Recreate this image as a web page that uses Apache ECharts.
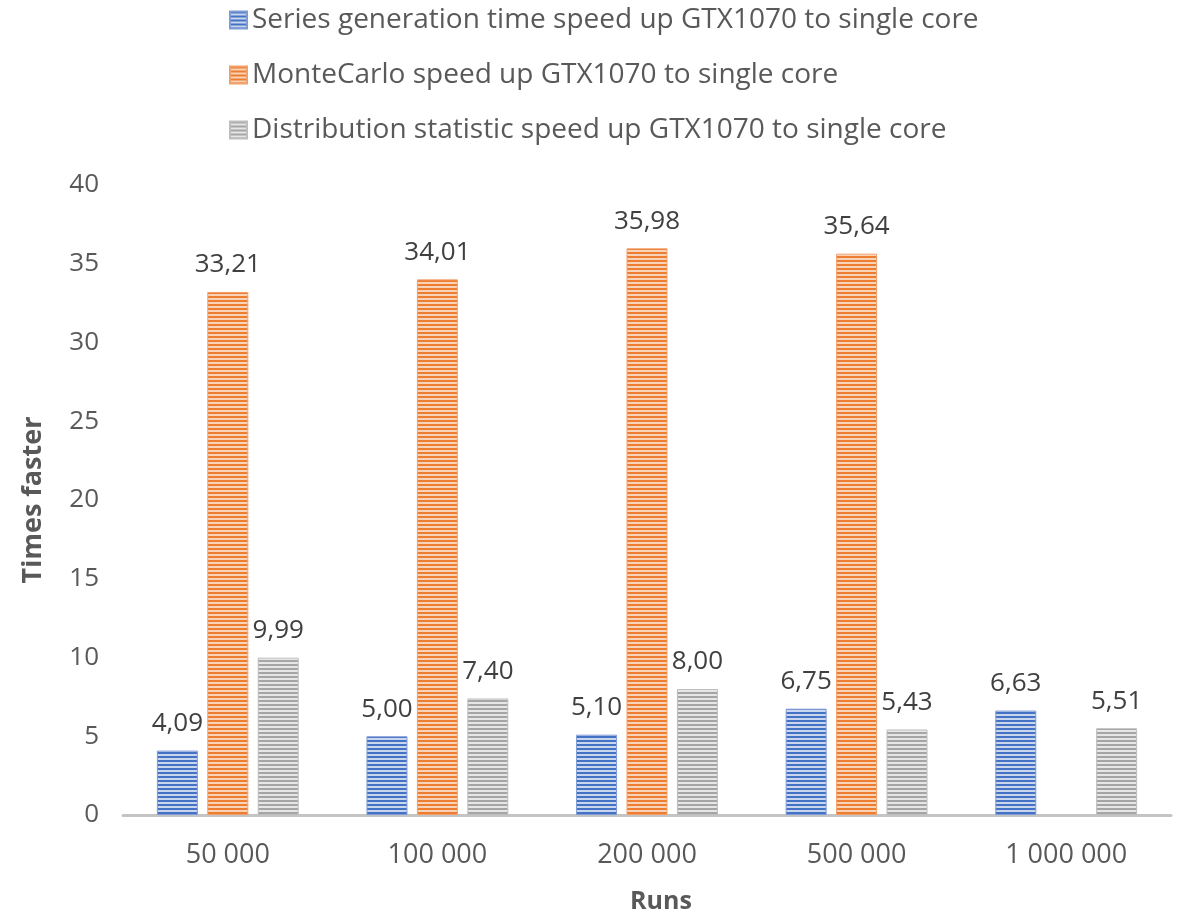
<!DOCTYPE html>
<html>
<head>
<meta charset="utf-8">
<script src="https://cdn.jsdelivr.net/npm/echarts@6/dist/echarts.min.js"></script>
<style>
  html, body { margin: 0; padding: 0; background: #fff; }
  #chart { width: 1187px; height: 915px; }
</style>
</head>
<body>
<div id="chart"></div>
<script>
// Speed-up factors, GTX1070 versus a single CPU core
const categories = ['50 000', '100 000', '200 000', '500 000', '1 000 000'];
const seriesGeneration = [4.09, 5.00, 5.10, 6.75, 6.63];
const monteCarlo = [33.21, 34.01, 35.98, 35.64, null];
const distributionStatistic = [9.99, 7.40, 8.00, 5.43, 5.51];
const seriesNames = [
  'Series generation time speed up GTX1070 to single core',
  'MonteCarlo speed up GTX1070 to single core',
  'Distribution statistic speed up GTX1070 to single core'
];
const yTicks = [0, 5, 10, 15, 20, 25, 30, 35, 40];

// Horizontal stripe fill: solid colour band followed by a pale band
function stripes(base, pale) {
  const c = document.createElement('canvas');
  c.width = 4; c.height = 4;
  const ctx = c.getContext('2d');
  ctx.fillStyle = pale; ctx.fillRect(0, 0, 4, 4);
  ctx.fillStyle = base; ctx.fillRect(0, 0, 4, 2);
  return { image: c, repeat: 'repeat' };
}

const fills = [
  stripes('#4472C4', '#C9D6EE'),
  stripes('#ED7D31', '#F9D3B8'),
  stripes('#A5A5A5', '#E6E6E6')
];
const borders = ['#7E9BD6', '#F2A06B', '#BEBEBE'];

const font = '"Open Sans", "Noto Sans", sans-serif';
const fmt = v => (v == null ? '' : v.toFixed(2).replace('.', ','));

const chart = echarts.init(document.getElementById('chart'), null, { renderer: 'canvas' });

const data = [seriesGeneration, monteCarlo, distributionStatistic];

chart.setOption({
  animation: false,
  textStyle: { fontFamily: font },
  legend: {
    orient: 'vertical',
    left: 224,
    top: 1,
    itemWidth: 17,
    itemHeight: 17,
    itemGap: 27,
    icon: 'rect',
    textStyle: { fontSize: 28, color: '#595959', fontFamily: font },
    data: seriesNames
  },
  grid: {
    left: 123, right: 16, top: 185, bottom: 100,
    containLabel: false,
    outerBoundsMode: 'none'
  },
  xAxis: {
    type: 'category',
    data: categories,
    name: 'Runs',
    nameLocation: 'middle',
    nameGap: 74,
    nameTextStyle: { fontSize: 25, fontWeight: 'bold', color: '#595959', fontFamily: font, padding: [0, 0, 0, 28] },
    axisLine: { lineStyle: { color: '#C4C4C4', width: 3 } },
    axisTick: { show: false },
    axisLabel: { fontSize: 27, color: '#595959', margin: 27, fontFamily: font }
  },
  yAxis: {
    type: 'value',
    min: yTicks[0],
    max: yTicks[yTicks.length - 1],
    interval: 5,
    name: 'Times faster',
    nameLocation: 'middle',
    nameGap: 76,
    nameRotate: 90,
    nameTextStyle: { fontSize: 27, fontWeight: 'bold', color: '#595959', fontFamily: font },
    axisLine: { show: false },
    axisTick: { show: false },
    splitLine: { show: false },
    axisLabel: { fontSize: 26, color: '#595959', margin: 24, fontFamily: font }
  },
  series: seriesNames.map((name, i) => ({
    name,
    type: 'bar',
    data: data[i],
    barWidth: 41,
    barGap: '23%',
    itemStyle: { color: fills[i], borderColor: borders[i], borderWidth: 1 },
    label: {
      show: true,
      position: 'top',
      distance: 14,
      fontSize: 26,
      color: '#404040',
      fontFamily: font,
      formatter: p => fmt(p.value)
    }
  }))
});
</script>
</body>
</html>
